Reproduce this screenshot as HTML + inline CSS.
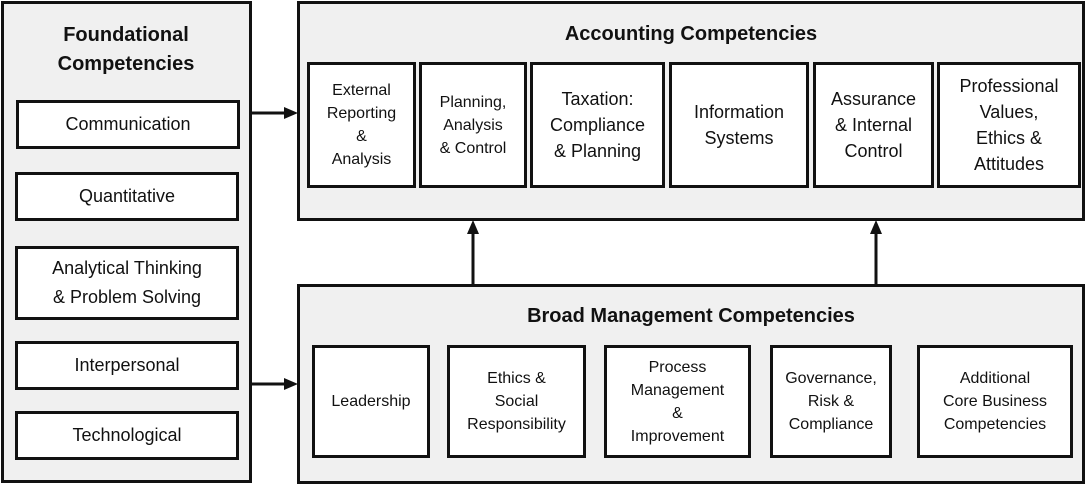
<!DOCTYPE html>
<html><head><meta charset="utf-8"><style>
*{box-sizing:border-box;margin:0;padding:0}
body{width:1086px;height:485px;background:#fff;position:relative;overflow:hidden;font-family:"Liberation Sans",sans-serif;color:#111}
.p{position:absolute;background:#f0f0f0;border:3px solid #111}
.b{position:absolute;background:#fff;border:3px solid #111;display:flex;align-items:center;justify-content:center;text-align:center;font-size:16px;line-height:23px}
.t{position:absolute;font-weight:bold;font-size:20px;text-align:center;line-height:29px}
.big{font-size:18px;line-height:29px}
</style></head><body>
<div class="p" style="left:1px;top:1px;width:251px;height:482px"></div>
<div class="t" style="left:2px;top:21px;width:248px">Foundational<br>Competencies</div>
<div class="b big" style="left:16px;top:100px;width:224px;height:49px">Communication</div>
<div class="b big" style="left:15px;top:172px;width:224px;height:49px">Quantitative</div>
<div class="b big" style="left:15px;top:246px;width:224px;height:74px">Analytical Thinking<br>&amp; Problem Solving</div>
<div class="b big" style="left:15px;top:341px;width:224px;height:49px">Interpersonal</div>
<div class="b big" style="left:15px;top:411px;width:224px;height:49px">Technological</div>

<div class="p" style="left:297px;top:1px;width:788px;height:220px"></div>
<div class="t" style="left:297px;top:20px;width:788px">Accounting Competencies</div>
<div class="b" style="left:307px;top:62px;width:109px;height:126px">External<br>Reporting<br>&amp;<br>Analysis</div>
<div class="b" style="left:419px;top:62px;width:108px;height:126px">Planning,<br>Analysis<br>&amp; Control</div>
<div class="b big" style="left:530px;top:62px;width:135px;height:126px;line-height:26px">Taxation:<br>Compliance<br>&amp; Planning</div>
<div class="b big" style="left:669px;top:62px;width:140px;height:126px;line-height:26px">Information<br>Systems</div>
<div class="b big" style="left:813px;top:62px;width:121px;height:126px;line-height:26px">Assurance<br>&amp; Internal<br>Control</div>
<div class="b big" style="left:937px;top:62px;width:144px;height:126px;line-height:26px">Professional<br>Values,<br>Ethics &amp;<br>Attitudes</div>

<div class="p" style="left:297px;top:284px;width:788px;height:200px"></div>
<div class="t" style="left:297px;top:302px;width:788px">Broad Management Competencies</div>
<div class="b" style="left:312px;top:345px;width:118px;height:113px">Leadership</div>
<div class="b" style="left:447px;top:345px;width:139px;height:113px">Ethics &amp;<br>Social<br>Responsibility</div>
<div class="b" style="left:604px;top:345px;width:147px;height:113px">Process<br>Management<br>&amp;<br>Improvement</div>
<div class="b" style="left:770px;top:345px;width:122px;height:113px">Governance,<br>Risk &amp;<br>Compliance</div>
<div class="b" style="left:917px;top:345px;width:156px;height:113px">Additional<br>Core Business<br>Competencies</div>

<svg width="1086" height="485" style="position:absolute;left:0;top:0">
<g stroke="#111" stroke-width="3" fill="#111">
<line x1="252" y1="113" x2="286" y2="113"/><polygon points="284,107 298,113 284,119" stroke="none"/>
<line x1="252" y1="384" x2="286" y2="384"/><polygon points="284,378 298,384 284,390" stroke="none"/>
<line x1="473" y1="284" x2="473" y2="232"/><polygon points="467,234 473,220 479,234" stroke="none"/>
<line x1="876" y1="284" x2="876" y2="232"/><polygon points="870,234 876,220 882,234" stroke="none"/>
</g></svg>
</body></html>
